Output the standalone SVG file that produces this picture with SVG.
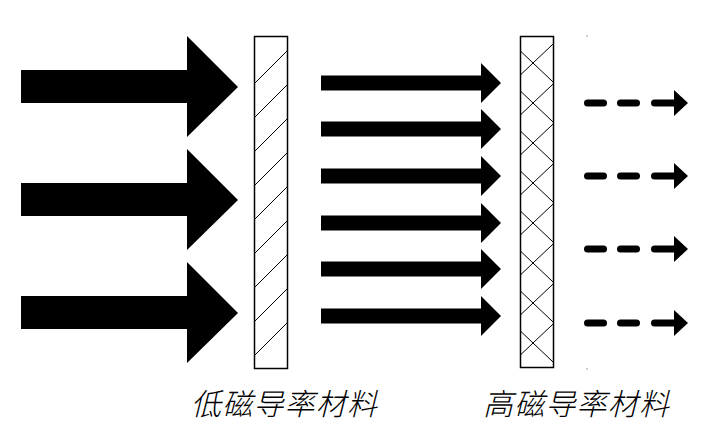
<svg xmlns="http://www.w3.org/2000/svg" width="717" height="426" viewBox="0 0 717 426">
<style>
.fill{fill:#000;stroke:none}
.panel{fill:#fff;stroke:#000;stroke-width:1.5}
.hatch{stroke:#000;stroke-width:1;fill:none}
.dash{stroke:#000;stroke-width:7;stroke-linecap:round;fill:none}
.lbl{font-family:"Noto Sans CJK SC","Noto Sans CJK JP",sans-serif;font-size:30px;font-weight:300;font-style:italic;fill:#000}
</style>
<defs>
<path id="bigArrow" class="fill" d="M21,-17 H187 V-51 L238,0 L187,50 V16 H21 Z"/>
<path id="medArrow" class="fill" d="M321,-7.5 H481 V-20 L501,0 L481,20 V7.5 H321 Z"/>
<g id="dashArrow">
<line class="dash" x1="587.5" y1="0" x2="603.5" y2="0"/>
<line class="dash" x1="620.5" y1="0" x2="636.5" y2="0"/>
<line class="dash" x1="654.5" y1="0" x2="676" y2="0"/>
<path class="fill" d="M674,-13 L688,0 L674,13 Z"/>
</g>
</defs>
<rect width="717" height="426" fill="#fff"/>
<g id="connectors">
<g id="incoming">
<use href="#bigArrow" y="87"/>
<use href="#bigArrow" y="200"/>
<use href="#bigArrow" y="313"/>
</g>
<g id="transmitted">
<use href="#medArrow" y="83"/>
<use href="#medArrow" y="129"/>
<use href="#medArrow" y="176"/>
<use href="#medArrow" y="223"/>
<use href="#medArrow" y="269"/>
<use href="#medArrow" y="316"/>
</g>
<g id="residual">
<use href="#dashArrow" y="103"/>
<use href="#dashArrow" y="176"/>
<use href="#dashArrow" y="249"/>
<use href="#dashArrow" y="323"/>
</g>
</g>
<g id="low-permeability">
<rect class="panel" x="254.5" y="36.5" width="33" height="332"/>
<path class="hatch" d="M255,83 L287,51 M255,117 L287,85 M255,151 L287,119 M255,185 L287,153 M255,219 L287,187 M255,253 L287,221 M255,287 L287,255 M255,321 L287,289 M255,355 L287,323"/>
<text class="lbl" x="191" y="415" textLength="186" lengthAdjust="spacing">低磁导率材料</text>
</g>
<g id="high-permeability">
<rect class="panel" x="520.5" y="36.5" width="33" height="331"/>
<path class="hatch" d="M521,51.6 L554,82.9 M521,74.4 L554,43.1 M521,91.6 L554,122.9 M521,114.4 L554,83.1 M521,131.6 L554,162.9 M521,154.4 L554,123.1 M521,171.6 L554,202.9 M521,194.4 L554,163.1 M521,211.6 L554,242.9 M521,234.4 L554,203.1 M521,251.6 L554,282.9 M521,274.4 L554,243.1 M521,291.6 L554,322.9 M521,314.4 L554,283.1 M521,331.6 L554,362.9 M521,354.4 L554,323.1"/>
<text class="lbl" x="483" y="415" textLength="186" lengthAdjust="spacing">高磁导率材料</text>
</g>
<g id="marks">
<rect x="586.5" y="35.5" width="1" height="1" fill="#444"/>
<rect x="586.5" y="368.5" width="1" height="1" fill="#444"/>
</g>
</svg>
